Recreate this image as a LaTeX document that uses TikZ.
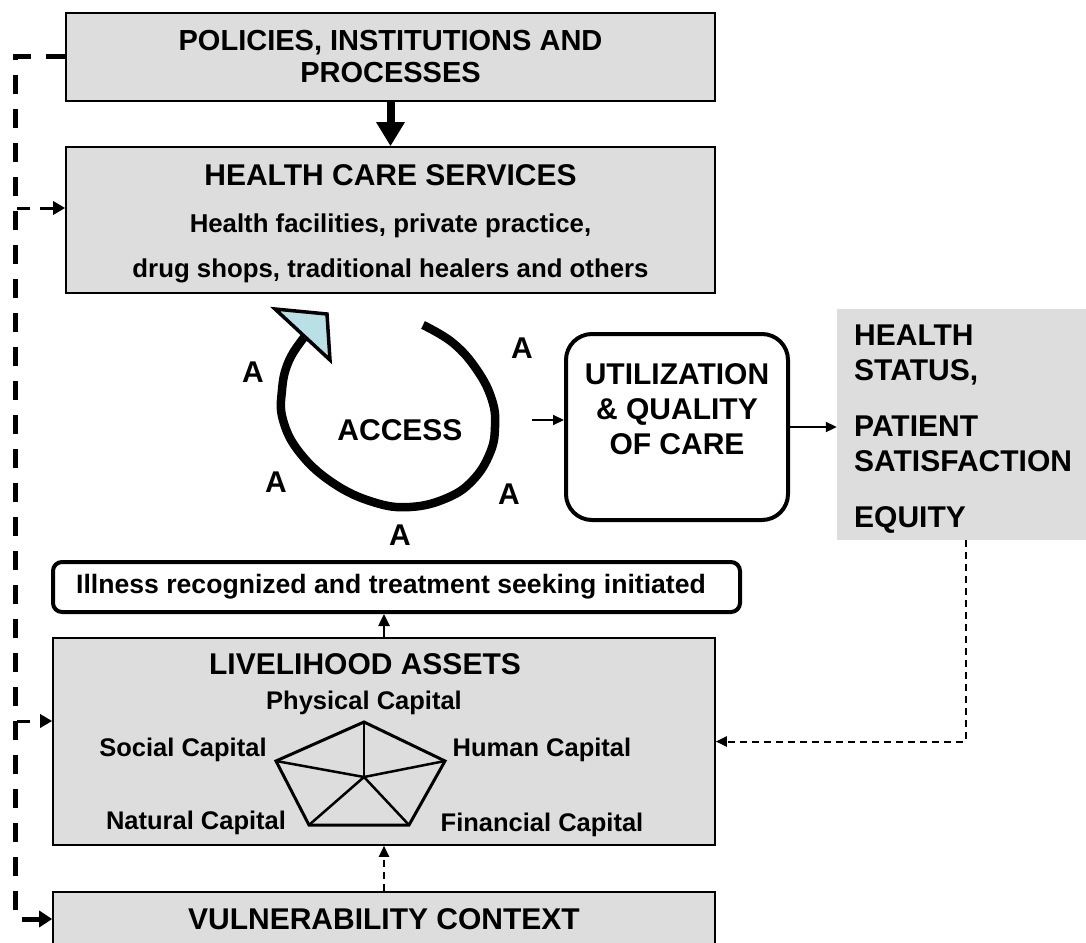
\documentclass[tikz,border=0pt]{standalone}
\usepackage{fontspec}
\setmainfont{Liberation Sans}
\usetikzlibrary{arrows.meta}
\definecolor{boxgrey}{HTML}{DDDDDD}
\definecolor{headcyan}{HTML}{B9E1E5}

\begin{document}
\begin{tikzpicture}[x=1pt,y=-1pt,
    greybox/.style={draw=black,fill=boxgrey,line width=1.6pt,inner sep=0pt},
    roundbox/.style={draw=black,line width=4pt,inner sep=0pt},
    bigtext/.style={font=\fontsize{30}{35}\selectfont\bfseries,inner sep=0pt},
    midtext/.style={font=\fontsize{25.8}{30}\selectfont\bfseries,inner sep=0pt},
    captext/.style={font=\fontsize{25.5}{30}\selectfont\bfseries,inner sep=0pt,anchor=base},
    trunk/.style={line width=5pt,dash pattern=on 19pt off 15pt},
    sidearrow/.style={line width=3pt,dash pattern=on 13pt off 10pt,-{Triangle[length=12pt,width=13pt]}},
    feedback/.style={line width=2pt,dash pattern=on 7pt off 5pt,-{Triangle[length=11pt,width=10pt]}},
    solidarrow/.style={line width=2.5pt,-{Triangle[length=12pt,width=11pt]}}]
            \useasboundingbox (0,0) rectangle (1086,942);
            \node [greybox,minimum width=649,minimum height=88,align=center,
                   font=\fontsize{29}{32}\selectfont\bfseries] (policies) at (390.5,57)
                  {POLICIES, INSTITUTIONS AND\\PROCESSES};
            \node [greybox,minimum width=649,minimum height=146] (hcs) at (390.5,220) {};
            \node [bigtext,anchor=base] (hcstitle) at (390.5,185) {HEALTH CARE SERVICES};
            \node [midtext,anchor=base] (hcsline1) at (390.5,232) {Health facilities, private practice,};
            \node [midtext,anchor=base] (hcsline2) at (390.5,277) {drug shops, traditional healers and others};
            \draw [line width=8pt,-{Triangle[length=24pt,width=27pt]}] (policies.south) -- (hcs.north);
            \draw [line width=8.5pt,line cap=butt] plot [smooth,tension=0.7] coordinates
                  {(423,325) (453,343) (477,370) (492,400) (495,427) (490,453) (473,480) (447,498)
                   (410,507) (373,502) (333,483) (300,453) (283,420) (282,390) (288,363) (302,340) (312,330)};
            \filldraw [fill=headcyan,line width=3.5pt,line join=miter] (275,309) -- (327,314) -- (330,360) -- cycle;
            \node [bigtext] (access) at (400,430) {ACCESS};
            \foreach \ax/\ay [count=\i] in {253/372,522/348,276/482,509/494,400/535}
                \node [bigtext] (a\i) at (\ax,\ay) {A};
            \node [roundbox,rounded corners=26pt,minimum width=222,minimum height=186] (util) at (677,427) {};
            \node [bigtext,align=center,anchor=north] (utiltext) at (677,363) {UTILIZATION\\\& QUALITY\\OF CARE};
            \node [fill=boxgrey,inner sep=0pt,minimum width=249,minimum height=231] (outcome) at (961.5,424.5) {};
            \node [bigtext,align=left,anchor=north west] (outcometext) at (854,325)
                  {HEALTH\\STATUS,\\[21pt]PATIENT\\SATISFACTION\\[21pt]EQUITY};
            \coordinate (accout) at (532,420);
            \draw [line width=2pt,-{Triangle[length=11pt,width=10pt]}] (accout) -- (util.west |- accout);
            \draw [line width=2pt,-{Triangle[length=11pt,width=10pt]}] (util.east) -- (outcome.west |- util.east);
            \node [roundbox,rounded corners=9pt,minimum width=687,minimum height=50] (illness) at (396.5,587) {};
            \node [inner sep=0pt,font=\fontsize{26.6}{30}\selectfont\bfseries] (illtext) at (391,587)
                  {Illness recognized and treatment seeking initiated};
            \node [greybox,minimum width=662,minimum height=207] (liveli) at (384,741.5) {};
            \node [bigtext,anchor=base] (livetitle) at (365,674) {LIVELIHOOD ASSETS};
            \node [captext] (physcap) at (364,709) {Physical Capital};
            \node [captext] (soccap) at (183,756) {Social Capital};
            \node [captext] (humcap) at (542,756) {Human Capital};
            \node [captext] (natcap) at (196,829) {Natural Capital};
            \node [captext] (fincap) at (542,831) {Financial Capital};
            \coordinate (pc) at (364,777);
            \coordinate (pt) at (364,722);
            \coordinate (pr) at (445,761);
            \coordinate (pbr) at (409,825);
            \coordinate (pbl) at (309,825);
            \coordinate (pl) at (276,761);
            \draw [line width=3pt,line join=miter] (pt) -- (pr) -- (pbr) -- (pbl) -- (pl) -- cycle;
            \foreach \v in {pt,pr,pbr,pbl,pl}
                \draw [line width=2.5pt] (pc) -- (\v);
            \node [greybox,minimum width=662,minimum height=54] (vuln) at (384,919) {};
            \node [bigtext,anchor=base] (vulntext) at (384,929) {VULNERABILITY CONTEXT};
            \draw [solidarrow] (liveli.north) -- (liveli.north |- illness.south);
            \draw [feedback] (vuln.north) -- (liveli.south);
            \draw [feedback] ([xshift=4pt]outcome.south) |- (liveli.east);
            \coordinate (trunkend) at (15,911);
            \coordinate (trunkA) at (17,208);
            \coordinate (trunkB) at (17,721);
            \coordinate (trunkC) at (22,919);
            \draw [trunk] (policies.west) -| (trunkend);
            \draw [sidearrow] (trunkA) -- (hcs.west |- trunkA);
            \draw [sidearrow] (trunkB) -- (liveli.west |- trunkB);
            \draw [line width=5pt,-{Triangle[length=13pt,width=16pt]}] (trunkC) -- (vuln.west);
        \end{tikzpicture}
\end{document}
